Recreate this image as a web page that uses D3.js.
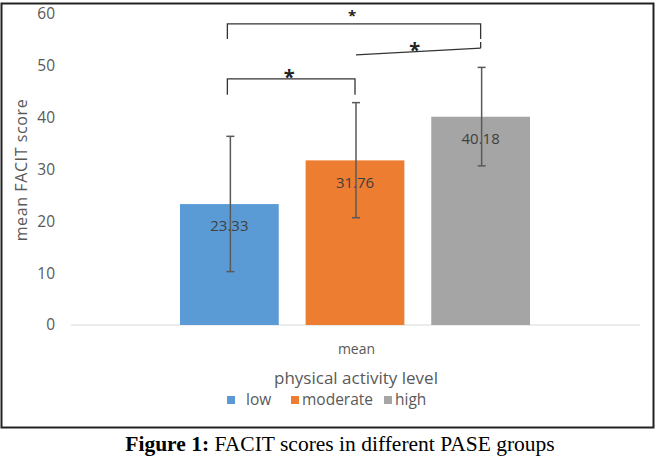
<!DOCTYPE html>
<html>
<head>
<meta charset="utf-8">
<script src="https://cdn.jsdelivr.net/npm/d3@7"></script>
<style>
  body { margin: 0; background: #fff; }
  text { font-family: "Open Sans", sans-serif; }
</style>
</head>
<body>
<svg id="chart" width="657" height="458"></svg>
<script>
// values
const category = "mean";
const groups = ["low", "moderate", "high"];
const means = [23.33, 31.76, 40.18];
const errLow = [10.3, 20.7, 30.7];
const errHigh = [36.4, 42.9, 49.7];
const yTicks = [0, 10, 20, 30, 40, 50, 60];
const colors = ["#5b9bd5", "#ed7d31", "#a5a5a5"];

// significance brackets (y in score units)
const brackets = [
  { from: "low", to: "moderate", top: 47.5, leg: 44.4 },
  { from: "low", to: "high", top: 58.1, leg: 55.2 }
];
const slant = { from: "moderate", to: "high", y1: 52.1, y2: 53.4, leg: 54.6 };
const stars = [
  { between: ["low", "moderate"], y: 48.2, size: 20 },
  { between: ["low", "high"], y: 59.9, size: 15 },
  { between: ["moderate", "high"], y: 53.3, size: 20 }
];

const svg = d3.select("#chart");

// outer frame
svg.append("rect")
  .attr("x", 1.5).attr("y", 3.5)
  .attr("width", 652).attr("height", 424)
  .attr("fill", "none").attr("stroke", "#222").attr("stroke-width", 2);

const y = d3.scaleLinear().domain([0, 60]).range([325, 14]);
const xCat = d3.scaleBand().domain([category]).range([71, 640]);
const xGroup = d3.scaleBand().domain(groups)
  .range([180, 530]).paddingInner(0.214).paddingOuter(0);
const cx = g => xGroup(g) + xGroup.bandwidth() / 2;

// y tick labels
svg.append("g").selectAll("text")
  .data(yTicks).enter().append("text")
  .attr("x", 55).attr("y", d => y(d))
  .attr("dy", "0.35em")
  .attr("text-anchor", "end")
  .attr("font-size", 15.5)
  .attr("fill", "#595959")
  .text(d => d);

// baseline
svg.append("line")
  .attr("x1", xCat.range()[0]).attr("x2", xCat.range()[1])
  .attr("y1", y(0)).attr("y2", y(0))
  .attr("stroke", "#d9d9d9").attr("stroke-width", 1.2);

// bars
svg.append("g").selectAll("rect")
  .data(groups).enter().append("rect")
  .attr("x", d => xGroup(d))
  .attr("y", (d, i) => y(means[i]))
  .attr("width", xGroup.bandwidth())
  .attr("height", (d, i) => y(0) - y(means[i]))
  .attr("fill", (d, i) => colors[i]);

// value labels
svg.append("g").selectAll("text")
  .data(groups).enter().append("text")
  .attr("x", d => cx(d))
  .attr("y", (d, i) => y(means[i]) + 22)
  .attr("dy", "0.35em")
  .attr("text-anchor", "middle")
  .attr("font-size", 15)
  .attr("fill", "#404040")
  .text((d, i) => means[i].toFixed(2));

// error bars
const eb = svg.append("g").attr("stroke", "#595959").attr("stroke-width", 1.5);
groups.forEach((g, i) => {
  const x = cx(g) + 1;
  eb.append("line").attr("x1", x).attr("x2", x)
    .attr("y1", y(errLow[i])).attr("y2", y(errHigh[i]));
  [errLow[i], errHigh[i]].forEach(v => {
    eb.append("line").attr("x1", x - 4).attr("x2", x + 4)
      .attr("y1", y(v)).attr("y2", y(v));
  });
});

// brackets
const br = svg.append("g").attr("fill", "none").attr("stroke", "#333").attr("stroke-width", 1.3);
brackets.forEach(b => {
  const x1 = cx(b.from) - 2, x2 = cx(b.to);
  br.append("path")
    .attr("d", `M${x1},${y(b.leg)}V${y(b.top)}H${x2}V${y(b.leg)}`);
});
br.append("line")
  .attr("x1", cx(slant.from) + 1).attr("y1", y(slant.y1))
  .attr("x2", cx(slant.to)).attr("y2", y(slant.y2));
br.append("line")
  .attr("x1", cx(slant.to)).attr("y1", y(slant.y2))
  .attr("x2", cx(slant.to)).attr("y2", y(slant.leg));

svg.append("g").selectAll("text")
  .data(stars).enter().append("text")
  .attr("x", d => (cx(d.between[0]) + cx(d.between[1])) / 2 - 3)
  .attr("y", d => y(d.y) + d.size * 0.42)
  .attr("text-anchor", "middle")
  .attr("font-size", d => d.size)
  .attr("font-weight", "bold")
  .attr("fill", "#222")
  .text("*");

// category label
svg.append("text")
  .attr("x", xCat(category) + xCat.bandwidth() / 2 + 1).attr("y", 349)
  .attr("dy", "0.35em")
  .attr("text-anchor", "middle")
  .attr("font-size", 14)
  .attr("fill", "#595959")
  .text(category);

// y axis title
svg.append("text")
  .attr("transform", "translate(21,170) rotate(-90)")
  .attr("dy", "0.35em")
  .attr("text-anchor", "middle")
  .attr("font-size", 16)
  .attr("letter-spacing", 0.6)
  .attr("fill", "#595959")
  .text("mean FACIT  score");

// legend title
svg.append("text")
  .attr("x", 356).attr("y", 378)
  .attr("dy", "0.35em")
  .attr("text-anchor", "middle")
  .attr("font-size", 17)
  .attr("fill", "#595959")
  .text("physical activity level");

// legend
const legX = [227, 291, 384];
const leg = svg.append("g").selectAll("g")
  .data(groups).enter().append("g")
  .attr("transform", (d, i) => `translate(${legX[i]},400)`);
leg.append("rect")
  .attr("x", 0).attr("y", -4).attr("width", 8).attr("height", 8)
  .attr("fill", (d, i) => colors[i]);
leg.append("text")
  .attr("x", (d, i) => i === 0 ? 19 : 11).attr("y", 0)
  .attr("dy", "0.35em")
  .attr("font-size", 15.5)
  .attr("fill", "#595959")
  .text(d => d);

// caption
const cap = svg.append("text")
  .attr("x", 340).attr("y", 443)
  .attr("dy", "0.35em")
  .attr("text-anchor", "middle")
  .attr("font-family", "'Liberation Serif', 'Times New Roman', serif")
  .attr("font-size", 21.5)
  .attr("fill", "#000");
cap.append("tspan").attr("font-weight", "bold").attr("font-family", "'Liberation Serif', serif").text("Figure 1:");
cap.append("tspan").attr("font-family", "'Liberation Serif', serif").text(" FACIT scores in different PASE groups");
</script>
</body>
</html>
